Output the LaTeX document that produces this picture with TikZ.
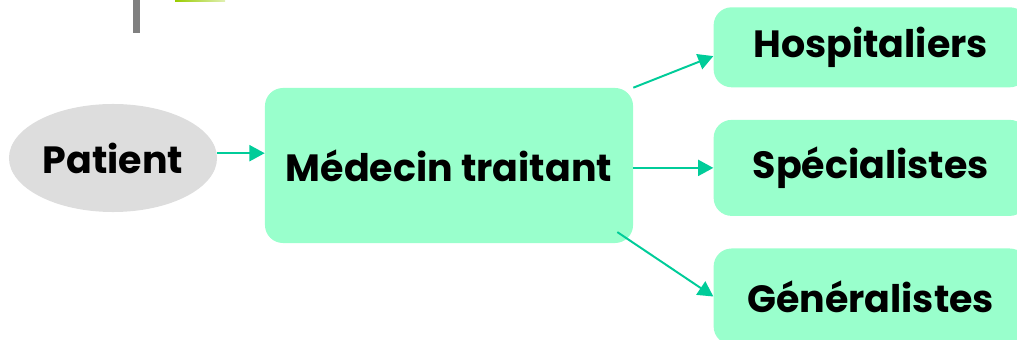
\documentclass[tikz,border=0pt]{standalone}
\usepackage{fontspec}
\setmainfont{Poppins}
\usepackage{tikz}
\usetikzlibrary{shapes,arrows,positioning,calc,arrows.meta,shadings}

\definecolor{mint}{HTML}{99FFCC}
\definecolor{teal2}{HTML}{00CC99}
\definecolor{pgray}{HTML}{DDDDDD}
\definecolor{bargray}{HTML}{808080}
\definecolor{lime}{HTML}{99CC00}

\tikzset{
	box/.style={rectangle, rounded corners=0.45cm, fill=mint, draw=none, font=\fontsize{27}{32}\selectfont\bfseries, align=center},
	arr/.style={-{Triangle[length=0.38cm,width=0.4cm]}, draw=teal2, fill=teal2, line width=1.4pt}
}

\begin{document}
\begin{tikzpicture}[x=0.025cm, y=-0.025cm, node distance=0.8cm]
	\useasboundingbox (0,0) rectangle (1017,340);
	\clip (0,0) rectangle (1017,340);
	
	\fill [bargray] (133,0) rectangle (140,33);
	\shade [left color=lime, right color=lime!30] (175,0) rectangle (225,1.2);
	
	\node [ellipse, fill=pgray, minimum width=5.2cm, minimum height=2.7cm, inner sep=0pt, font=\fontsize{27}{32}\selectfont\bfseries] (pat) at (113,158) {Patient};
	\node [box, minimum width=9.2cm, minimum height=3.875cm] (med) at (449,165.5) {Médecin traitant};
	
	\node [box, minimum width=7.85cm, minimum height=2.4cm] (spec) [right=2cm of med, yshift=-0.06cm] {Spécialistes};
	\node [box, minimum width=7.85cm, minimum height=2cm] (hosp) [above=0.8cm of spec] {Hospitaliers};
	\node [box, minimum width=7.85cm, minimum height=2.4cm] (gen) [below=0.8cm of spec] {Généralistes};
	
	\draw [arr] ([yshift=0.12cm]pat.east) -- ([yshift=0.12cm]med.west |- pat.east);
	\draw [arr] (med.north east) -- ([yshift=-0.22cm]hosp.west);
	\draw [arr] (med.east |- spec.west) -- (spec.west);
	\draw [arr] ([xshift=-0.4cm,yshift=0.28cm]med.south east) -- (gen.west);
\end{tikzpicture}
\end{document}
